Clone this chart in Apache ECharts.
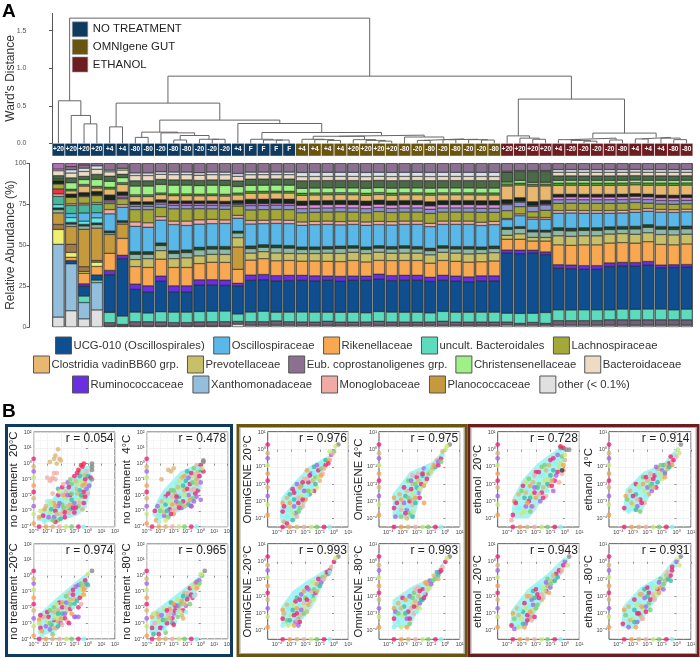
<!DOCTYPE html>
<html><head><meta charset="utf-8"><style>html,body{margin:0;padding:0;background:#fff}#c{width:700px;height:658px}</style>
<script src="https://cdn.jsdelivr.net/npm/echarts@6/dist/echarts.min.js"></script></head><body><div id="c"></div><script>
const leafLabels=['+20','+20','+20','+20','+4','+4','-80','-80','-20','-80','-80','-20','-20','-20','+4','F','F','F','F','+4','+4','+4','+4','+20','+20','+20','+20','-80','-20','-80','-20','-80','-20','-20','-80','+20','+20','+20','+20','+4','-20','-20','-20','-20','-80','+4','+4','+4','-80','-80'];
const groupSizes=[19,16,15];
const groupNames=['NO TREATMENT','OMNIgene GUT','ETHANOL'];
// dendrogram: [height,left,right], leaves are column numbers
const treeFor=[.567,0,[.372,1,[.26,2,3]]];
const treeNT=[.536,[.22,4,5],[.31,[.15,[.08,6,7],[.14,8,[.105,[.045,9,10],[.055,11,[.055,12,13]]]]],[.265,14,[.145,[.055,15,[.045,16,[.045,17,18]]],[.11,[.095,[.055,19,[.05,20,[.04,21,22]]],[.05,23,[.04,24,[.03,25,26]]]],[.085,27,[.06,[.04,28,29],[.055,[.05,30,31],[.05,32,[.045,33,34]]]]]]]]]];
const treeEth=[.59,[.1,35,[.07,36,[.055,37,38]]],[.137,[.07,[.05,39,[.04,40,[.03,41,42]]],[.045,43,44]],[.08,[.06,45,46],[.07,47,[.05,48,49]]]]];
const treeRoot=[1.667,treeFor,[.895,treeNT,treeEth]];
// stacked taxa, bottom to top
const other=[6,10,5,10,.5,.5,.5,.5,.5,.5,.5,.5,.5,.5,1.5,1,1,1,1,1,1,1,1,1,1,1,1,1,1,1,1,1,1,1,1,1,1,1,1,1,1,1,1,1,1,1,1,1,1,1];
const base=[0,0,0,0,2,1,2.5,2.5,2.5,2,2,2.5,2.5,2.5,1.5,2,2,2.5,2,2,2,2.5,2,2,2,2.5,2,2,2,2,2.5,2,2,2,2,1.5,1,1.5,1,2.5,2.5,2.5,2.5,3,3,3,3,3,3,3];
const xan=[44,29,10,16,0,0,0,0,0,0,0,0,0,0,0,0,0,0,0,0,0,0,0,0,0,0,0,0,0,0,0,0,0,0,0,0,0,0,0,0,0,0,0,0,0,0,0,0,0,0];
const teal=[0,0,4,1.5,6,5,5.5,5,6,6,6,6,6,6,4,5.5,6,5,5.5,6,6,5.5,6,6,5.5,6,6,6,6,5.5,6,6,6,6,6,4.5,5.5,5,6,6,6,6,6,5.5,6,6,6,6,5.5,6];
const ucg=[0,2,6,3,22,34,13,12,18,11.5,11.5,15.5,15,14.5,15,18,18,18,18,19,19,19.5,19,19.5,19.5,20,19,19.5,19.5,19,19,19,18.5,19,19,30.5,33,33,32,23,23,22.5,22.5,24,24,24.5,24.5,23,23.5,23.5];
const rum=[0,0,1.5,0,2.5,2,3,3.5,3,3.5,3.5,3,3,3,1.5,3,3,3,3,3,3,2.5,3,2.5,2.5,3,3,3,3,2.5,3,3,3,3,3,1.5,2,1.5,1.5,2,2,2,2,2,2,2,2,1.5,1.5,1.5];
const rik=[0,2,6.5,5,10,10,10,10.5,10,10.5,10.5,9.5,10,10,7.5,8.5,9,8.5,8.5,8.5,9,9,9,9.5,8.5,8.5,9,9,9,8.5,9,9,9,8.5,9,5.5,6,5,6,11,11,11.5,11.5,11,11,11,11,11.5,11,11.5];
const yel=[9,3,1,2.5,0,0,0,0,0,0,0,0,0,0,0,0,0,0,0,0,0,0,0,0,0,0,0,0,0,0,0,0,0,0,0,0,0,0,0,0,0,0,0,0,0,0,0,0,0,0];
const brn=[3,5,3,1,0,0,0,0,0,0,0,0,0,0,0,0,0,0,0,0,0,0,0,0,0,0,0,0,0,0,0,0,0,0,0,0,0,0,0,0,0,0,0,0,0,0,0,0,0,0];
const pla=[7,11,23,19,11,8.5,0,0,0,0,0,0,0,0,12,0,0,0,0,0,0,0,0,0,0,0,0,0,0,0,0,0,0,0,0,0,0,0,0,0,0,0,0,0,0,0,0,0,0,0];
const prev=[0,0,0,0,0,0,4,5,5,5,5.5,4.5,4.5,4.5,5,4,4,4.5,4,4.5,4.5,5,5,5,5,5,4.5,4.5,4.5,5,5,5,5,5,5,2,3,2,2,5,5,5,5,5,5,5,5,5.5,5.5,5.5];
const pale=[2,1.5,2,2,1,1,3,2.5,3,3,3,3.5,3,3,2.5,2.5,2.5,3,3,2.5,2.5,2.5,3,2.5,2.5,2.5,2.5,3,2.5,2.5,2.5,2.5,3,2.5,2.5,3,3,3,3,3,3,3,3,2.5,2.5,3,3,3,3,3];
const dkg=[1,1,1,1,1,1,1.5,1.5,1.5,1.5,1.5,1.5,1.5,1.5,1,1.5,1.5,1.5,1.5,1.5,1.5,1.5,1.5,1.5,1.5,1.5,1.5,1.5,1.5,1.5,1.5,1.5,1.5,1.5,1.5,1,1,1,1,1.5,1.5,1.5,1.5,1.5,1.5,1.5,1.5,1.5,1.5,1.5];
const cyan=[2,3,2,3,0,0,0,0,0,0,0,0,0,0,0,0,0,0,0,0,0,0,0,0,0,0,0,0,0,0,0,0,0,0,0,0,0,0,0,0,0,0,0,0,0,0,0,0,0,0];
const osc=[0,2.5,5,3,10,8,14.5,14,13.5,15,14,13.5,13,13,7,12.5,12,12.5,12.5,13,13.5,13.5,13,13,13,13,13,13,13.5,13,13,13.5,13.5,13,13,4,6,6,6,8,8.5,8,8,7.5,7.5,8,7.5,8,8,8];
const teal2=[5,5,5,5,0,0,0,0,0,0,0,0,0,0,0,0,0,0,0,0,0,0,0,0,0,0,0,0,0,0,0,0,0,0,0,0,0,0,0,0,0,0,0,0,0,0,0,0,0,0];
const mono=[1.5,1,1,1,2.5,1.5,2.5,2.5,2,2,2.5,2.5,2.5,2,1.5,2,2,2,2,2,2,2,2,2,2,2,2,2,2,2,2,2,2,2,2,.5,1,1,1,1.5,1.5,1.5,1.5,1.5,1.5,1.5,1.5,1.5,1.5,1.5];
const red=[3,0,0,0,0,0,0,0,0,0,0,0,0,0,0,0,0,0,0,0,0,0,0,0,0,0,0,0,0,0,0,0,0,0,0,0,0,0,0,0,0,0,0,0,0,0,0,0,0,0];
const lach=[3,4,4,4,3.5,3.5,7,7.5,5.5,7,7,6.5,6,6,5,6,6,6,6,5.5,5.5,5.5,6,5.5,5.5,6,5.5,5.5,5.5,6,5.5,5.5,5.5,6,5.5,4,4,3,4,4,4,4,4,4,4,4,3,3,3,3];
const peri=[0,0,0,.5,1,1,2,2,2,2,2,2,2,2,1,2.5,2.5,2.5,2.5,2.5,2.5,2.5,2.5,2.5,2.5,2.5,2.5,2.5,2.5,2.5,2.5,2.5,2.5,2.5,2.5,3,2.5,3,3,2,2,2,2,2,2,2,2,2,2,2];
const pink=[0,0,.5,0,1,1,1,1,1,1,1,1,1,1,.5,1,1,1,1,2,2,2,2,2,2,2,2,2,2,2,2,2,2,2,2,.5,.5,.5,.5,1.5,1.5,1.5,1.5,1.5,1.5,1.5,1.5,1.5,1.5,1.5];
const dark=[2,2,2,2,3,2,1.5,1.5,1.5,1.5,1.5,1.5,1.5,1.5,1.5,2.5,2.5,2.5,2.5,2.5,2.5,2.5,2.5,2.5,2.5,2.5,2.5,2.5,2.5,2.5,2.5,2.5,2.5,2.5,2.5,2,2,2,2,1.5,1.5,1.5,1.5,1.5,1.5,1.5,1.5,1.5,1.5,1.5];
const vad=[0,2,4,2,3.5,4.5,3,3,3,3,3,3,3,3,3,3.5,3.5,3.5,3.5,3.5,3.5,3.5,3.5,3.5,3.5,3.5,3.5,3.5,3.5,4,3.5,3.5,3.5,3.5,3.5,7,7,8.5,8,5,5,5,5,5,5,5,5,5.5,5.5,5.5];
const grn=[1,1,1,1,1,1,1,1,1,1,1,1,1,1,1,1,1,1,1,1.2,1.2,1.2,1.2,1.2,1.2,1.2,1.2,1.2,1.2,1.2,1.2,1.2,1.2,1.2,1.2,1,1,1,1,1.2,1.2,1.2,1.2,1.2,1.2,1.2,1.2,1.2,1.2,1.2];
const chr=[0,4,3,4,3.5,3,5,5,5,5,5,5,5,5,3.5,3.5,3.5,3.5,3.5,3,3,3,3,3,3,3,3,3,3,3,3,3,3,3,3,1,1.5,1,1,1.5,1.5,1.5,1.5,1.5,1.5,1.5,1.5,1.5,1.5,1.5];
const dkg2=[2,3,2,3,3,2,3,3,3,3,3,3,3,3,3,3.5,3.5,3.5,3.5,4.5,4.5,4.5,4.5,4.5,4.5,4.5,4.5,4.5,4.5,4.5,4.5,4.5,4.5,4.5,4.5,5,5,6,6,2.5,2.5,2.5,2.5,2.5,2.5,2.5,2.5,2.5,2.5,2.5];
const bei=[3,3,3,3,2.5,2.5,3,3,3,3,3,3,3,3,2.5,2.5,2.5,2.5,2.5,2.5,2.5,2.5,2.5,2.5,2.5,2.5,2.5,2.5,2.5,2.5,2.5,2.5,2.5,2.5,2.5,0,0,0,0,2,2,2,2,2,2,2,2,2,2,2];
const wht=[1,2,2,2,1,1,1.5,1.5,1.5,1.5,1.5,1.5,1.5,1.5,1.5,1.5,1.5,1.5,1.5,2.5,2.5,2.5,2.5,2.5,2.5,2.5,2.5,2.5,2.5,2.5,2.5,2.5,2.5,2.5,2.5,.5,.5,.5,.5,1.5,1.5,1.5,1.5,1.5,1.5,1.5,1.5,1.5,1.5,1.5];
const eub=[0,2,2,1.5,4,3,5.5,5.5,5,5,5,5.5,5,5,5.5,5,5,5,5,5.5,5.5,5.5,5.5,5.5,5.5,5.5,5.5,5.5,5.5,5.5,5.5,5.5,5.5,5.5,5.5,4,4,4,4,3.5,3.5,3.5,3.5,3.5,3.5,3.5,3.5,3.5,3.5,3.5];
const orch=[3.5,2,1,0,0,0,0,0,0,0,0,0,0,0,0,0,0,0,0,0,0,0,0,0,0,0,0,0,0,0,0,0,0,0,0,0,0,0,0,0,0,0,0,0,0,0,0,0,0,0];
// scatter panels: log10 values x10, flat x,y pairs
const titles=['no treatment  20°C','no treatment  4°C','no treatment -20°C','no treatment -80°C','OmniGENE 20°C','OmniGENE 4°C','OmniGENE -20°C','OmniGENE -80°C','ethanol  20°C','ethanol  4°C','ethanol  -20°C','ethanol  -80°C'];
const rValues=['0.054','0.478','0.974','0.965','0.976','0.975','0.993','0.993','0.728','0.914','0.943','0.931'];
const clouds=[
[-38,-36,-30,-25,-20,-18,-10,-8,-2,-2,2,-1,3,-12,-1,-28,-8,-33,-20,-36,-30,-37],
[-36,-32,-32,-23,-28,-17,-15,-5,-5,-1,1,1,2,-3,-3,-23,-10,-28,-25,-34,-32,-36],
[-37,-37,-37,-25,-23,-14,-8,-3,1,3,0,-1,-3,-11,-12,-20,-23,-35,-30,-37],
[-38,-36,-37,-24,-23,-15,-5,-3,3,3,-2,-4,-9,-15,-23,-31,-32,-37],
[-38,-39,-37,-28,-27,-18,-18,-10,-3,-3,2,2,-3,-5,-12,-18,-22,-35,-27,-41,-37,-43],
[-37,-37,-37,-26,-25,-13,-9,-7,1,2,-4,-8,-16,-23,-22,-40,-37,-40],
[-37,-36,-37,-26,-29,-17,-19,-11,-3,-3,2,3,-3,-5,-15,-26,-25,-37],
[-37,-36,-37,-22,-23,-14,-9,-9,1,3,-6,-9,-16,-24,-25,-38,-37,-38],
[-37,-40,-36,-28,-29,-17,-19,-8,-6,0,0,2,-1,-8,-9,-19,-20,-35,-25,-40],
[-37,-36,-35,-23,-23,-13,-9,-8,1,2,-3,-10,-16,-23,-24,-36],
[-38,-38,-37,-28,-26,-16,-12,-7,0,3,-2,-7,-12,-18,-22,-32,-30,-39],
[-38,-38,-37,-26,-25,-15,-11,-8,0,3,-3,-8,-13,-21,-24,-34,-30,-39]];
const nt20=[-33,-33,-30,-35,-28,-31,-36,-34,-25,-34,-22,-36,-31,-27,-27,-29,-24,-30,-20,-32,-17,-34,-14,-33,-28,-24,-25,-25,-22,-27,-19,-26,-16,-30,-13,-29,-10,-31,-26,-19,-22,-20,-19,-23,-16,-22,-13,-26,-10,-25,-7,-27,-4,-29,-22,-16,-19,-15,-16,-18,-13,-20,-10,-21,-7,-23,-4,-21,-15,-12,-12,-13,-9,-16,-6,-17,-3,-18,0,-19,-10,-8,-7,-10,-5,-11,-2,-13,1,-14,-6,-5,-3,-7,0,-8,2,-9,-18,-30,-24,-37,-32,-37,-35,-30,-32,-29,-29,-34,-26,-36,-23,-32,-20,-35,-17,-31,-14,-31,-11,-28,-30,-24,-27,-26,-24,-27,-21,-25,-18,-28,-15,-27,-12,-23,-9,-28,-6,-25,-3,-25,-24,-22,-21,-18,-18,-20,-15,-20,-12,-19,-8,-19,-5,-20,-2,-21,-18,-13,-14,-15,-11,-16,-8,-13,-4,-14,-1,-16,-13,-10,-9,-11,-6,-8,-2,-10,-1,-5,-8,-6,-4,-5];
const nt4=[-34,-30,-31,-33,-29,-28,-33,-36,-27,-33,-24,-34,-29,-24,-26,-26,-23,-29,-21,-30,-26,-21,-23,-22,-20,-24,-17,-26,-14,-28,-22,-17,-19,-19,-16,-21,-13,-24,-10,-25,-7,-27,-18,-13,-15,-15,-12,-17,-9,-20,-6,-22,-14,-9,-11,-11,-8,-13,-5,-16,-2,-17,-9,-6,-6,-8,-3,-10,0,-12,-5,-3,-2,-5,0,-4,2,-5,-3,-1,0,-1,-31,-37,-26,-36,-20,-32,-32,-27,-30,-30,-27,-31,-25,-30,-22,-32,-19,-29,-16,-28,-27,-22,-24,-24,-21,-26,-18,-24,-15,-25,-12,-27,-9,-26,-24,-19,-21,-21,-18,-21,-15,-19,-12,-20,-8,-23,-5,-24,-20,-17,-17,-15,-13,-14,-10,-16,-7,-17,-4,-19,-1,-15,-16,-11,-12,-8,-9,-9,-6,-12,-3,-13,-10,-5,-7,-6,-4,-7,-1,-8,-2,-3,1,-3];
const nt_20=[-35,-33,-32,-36,-30,-29,-36,-28,-28,-34,-26,-37,-33,-26,-27,-31,-25,-28,-23,-33,-30,-23,-27,-24,-24,-25,-22,-29,-20,-30,-25,-20,-22,-22,-19,-24,-17,-27,-15,-29,-21,-17,-18,-18,-15,-22,-12,-24,-10,-26,-16,-13,-13,-15,-10,-18,-7,-20,-5,-18,-11,-9,-8,-11,-5,-13,-3,-12,-7,-6,-4,-7,-2,-8,0,-6,-2,-3,-19,-31,-14,-30,-34,-38,-36,-30,-34,-35,-31,-32,-28,-30,-25,-33,-22,-32,-35,-25,-32,-26,-29,-26,-26,-27,-23,-27,-20,-27,-17,-24,-28,-22,-25,-23,-22,-24,-19,-20,-16,-20,-13,-21,-11,-20,-23,-18,-19,-17,-16,-17,-13,-18,-10,-15,-8,-16,-6,-14,-14,-11,-11,-12,-7,-9,-5,-9,-3,-9,-9,-7,-5,-5,-3,-6,-1,-5];
const nt_80=[-36,-33,-33,-36,-31,-29,-36,-26,-29,-33,-26,-36,-32,-24,-28,-28,-25,-30,-24,-25,-21,-27,-19,-29,-27,-21,-23,-21,-20,-24,-17,-26,-14,-25,-22,-17,-19,-19,-16,-21,-13,-22,-11,-23,-17,-15,-14,-16,-11,-19,-8,-18,-12,-11,-9,-13,-6,-14,-4,-12,-8,-8,-5,-10,-2,-7,-4,-5,-1,-3,1,0,-13,-27,-35,-37,-31,-37,-34,-30,-30,-33,-27,-34,-35,-24,-31,-26,-29,-25,-26,-28,-23,-27,-21,-30,-25,-22,-22,-23,-19,-22,-17,-23,-15,-23,-20,-18,-17,-19,-15,-18,-12,-18,-13,-13,-10,-15,-10,-11,-7,-12,-5,-13,-6,-7,-3,-8,-3,-4,-1,-5];
const om20=[-36,-36,-33,-39,-30,-34,-36,-31,-27,-37,-24,-34,-33,-28,-28,-29,-25,-31,-22,-33,-29,-23,-26,-25,-23,-27,-20,-29,-26,-20,-23,-21,-20,-24,-17,-26,-14,-24,-21,-17,-18,-19,-15,-21,-12,-22,-19,-12,-16,-14,-13,-16,-10,-18,-14,-10,-11,-12,-8,-14,-6,-9,-9,-8,-5,-7,-3,-6,-2,-3,0,-1,-35,-42,-29,-41,-33,-43,-26,-39,-35,-33,-32,-35,-29,-37,-31,-31,-28,-33,-25,-36,-22,-30,-31,-26,-28,-25,-25,-28,-22,-29,-19,-26,-16,-24,-24,-22,-21,-24,-18,-24,-15,-18,-13,-20,-22,-19,-19,-17,-17,-15,-14,-14,-11,-16,-9,-15,-12,-9,-9,-11,-7,-11,-6,-6,-4,-8,-1,-2];
const om4=[-36,-34,-33,-37,-30,-32,-36,-28,-27,-35,-25,-37,-32,-26,-28,-27,-25,-30,-23,-32,-29,-22,-26,-24,-23,-26,-21,-28,-19,-25,-26,-18,-23,-20,-20,-22,-17,-20,-23,-15,-20,-16,-17,-17,-14,-19,-12,-14,-15,-11,-11,-13,-9,-11,-7,-10,-5,-9,-6,-6,-3,-5,-2,-3,0,0,-15,-31,-35,-39,-31,-39,-27,-40,-23,-39,-34,-31,-31,-35,-28,-37,-26,-33,-23,-36,-31,-29,-29,-31,-26,-28,-23,-29,-21,-31,-18,-28,-27,-24,-24,-23,-21,-25,-18,-23,-15,-21,-24,-18,-21,-20,-19,-18,-16,-15,-13,-17,-19,-14,-16,-14,-13,-12,-10,-13,-8,-9,-5,-7,-3,-7,-2,-1];
const om_20=[-36,-33,-33,-36,-30,-31,-36,-28,-27,-35,-25,-33,-33,-25,-29,-28,-26,-30,-23,-31,-27,-23,-24,-25,-21,-27,-18,-25,-23,-19,-20,-21,-17,-23,-15,-20,-19,-15,-16,-17,-13,-18,-11,-15,-15,-12,-12,-13,-9,-12,-8,-9,-6,-8,-4,-7,-3,-5,-2,-3,0,0,-36,-37,-32,-37,-28,-37,-25,-37,-33,-34,-35,-30,-31,-34,-28,-31,-26,-34,-24,-35,-32,-27,-29,-25,-26,-27,-23,-28,-21,-30,-19,-29,-26,-21,-24,-22,-21,-24,-19,-22,-17,-20,-14,-22,-21,-17,-18,-16,-14,-16,-12,-17,-10,-14,-11,-10,-7,-10,-5,-6,-3,-6];
const om_80=[-36,-33,-33,-35,-30,-31,-36,-27,-27,-33,-25,-36,-33,-24,-29,-26,-26,-29,-22,-30,-30,-21,-26,-22,-23,-24,-20,-26,-18,-24,-22,-18,-19,-20,-16,-22,-14,-19,-19,-15,-16,-16,-13,-16,-11,-15,-14,-12,-11,-11,-9,-11,-8,-8,-5,-8,-4,-6,-2,-3,0,0,-36,-38,-31,-38,-27,-38,-35,-29,-33,-30,-31,-27,-28,-30,-25,-33,-24,-27,-22,-26,-20,-29,-18,-27,-28,-22,-25,-20,-23,-21,-21,-23,-17,-22,-15,-21,-21,-16,-18,-17,-15,-18,-12,-16,-13,-13,-10,-13,-7,-10,-5,-10,-6,-6,-3,-5];
const et20=[-36,-38,-33,-34,-30,-37,-35,-30,-27,-33,-24,-36,-32,-26,-28,-28,-25,-30,-22,-33,-29,-21,-26,-23,-23,-26,-20,-28,-17,-30,-25,-17,-22,-19,-19,-22,-16,-25,-13,-27,-20,-13,-17,-15,-14,-18,-11,-21,-8,-24,-16,-10,-13,-12,-10,-15,-7,-18,-4,-19,-10,-6,-7,-8,-4,-10,-1,-12,-5,-3,-2,-4,0,-6,-3,1,-1,1,-37,-41,-34,-31,-31,-34,-28,-36,-26,-31,-23,-33,-30,-24,-27,-25,-24,-28,-21,-25,-18,-26,-15,-28,-12,-24,-27,-19,-24,-21,-21,-22,-18,-20,-15,-22,-12,-20,-9,-21,-21,-15,-18,-13,-15,-15,-12,-17,-9,-18,-6,-15,-14,-9,-11,-9,-8,-12,-5,-13,-2,-14,-8,-5,-5,-7,-3,-8,-1,-9];
const et4=[-36,-34,-33,-36,-30,-32,-35,-27,-27,-33,-25,-36,-32,-24,-28,-26,-25,-29,-22,-31,-28,-20,-25,-22,-22,-24,-19,-26,-17,-24,-23,-16,-20,-18,-17,-20,-14,-22,-18,-14,-15,-15,-12,-16,-10,-17,-13,-11,-10,-12,-8,-13,-6,-11,-9,-9,-5,-8,-3,-7,-4,-4,-1,-3,1,0,-3,-9,-8,-14,-34,-29,-31,-31,-28,-35,-30,-27,-27,-29,-24,-31,-21,-27,-26,-21,-23,-20,-20,-22,-18,-21,-16,-22,-13,-19,-21,-16,-18,-17,-16,-17,-13,-14,-11,-14,-8,-16,-14,-10,-11,-9,-7,-9,-5,-10,-2,-6,0,-4];
const et_20=[-37,-37,-33,-38,-30,-33,-36,-30,-27,-36,-24,-32,-33,-27,-29,-29,-26,-31,-23,-34,-28,-24,-25,-26,-22,-28,-26,-20,-23,-22,-19,-25,-16,-22,-22,-17,-19,-19,-16,-19,-13,-17,-18,-14,-15,-15,-12,-14,-10,-15,-12,-10,-9,-11,-7,-11,-6,-7,-3,-6,-1,-2,1,1,-32,-38,-28,-38,-35,-39,-35,-33,-32,-31,-29,-36,-26,-34,-23,-30,-21,-32,-31,-28,-27,-27,-24,-29,-22,-25,-20,-27,-24,-20,-21,-21,-18,-21,-15,-21,-20,-16,-17,-16,-14,-17,-11,-18,-13,-12,-10,-13,-8,-8,-5,-9,-4,-5,-2,-5];
const et_80=[-37,-36,-33,-37,-30,-33,-36,-28,-27,-35,-25,-31,-33,-26,-29,-28,-26,-30,-23,-33,-29,-22,-26,-24,-23,-27,-25,-19,-22,-21,-19,-24,-16,-21,-22,-16,-19,-18,-16,-19,-13,-16,-17,-13,-14,-15,-11,-15,-9,-16,-11,-10,-8,-11,-6,-10,-4,-8,-6,-6,-3,-5,-1,-2,1,1,-28,-38,-33,-38,-35,-31,-32,-34,-29,-35,-27,-30,-24,-33,-21,-29,-31,-24,-27,-25,-24,-26,-21,-26,-18,-28,-24,-19,-20,-20,-18,-22,-15,-22,-20,-15,-17,-15,-14,-18,-12,-18,-12,-12,-9,-13,-7,-8,-4,-11,-3,-3];
const bodies=[nt20,nt4,nt_20,nt_80,om20,om4,om_20,om_80,et20,et4,et_20,et_80];
// tagged outliers: x,y,colour
const outs=[
[-22,9,6,-24,5,6,-20,2,6,-25,3,6,-28,1,6,-23,0,6,-21,3,6,-25,-6,9,-23,-6,9,-30,-9,9,-27,-10,9,-26,-9,9,-24,-10,9,-28,-11,9,-3,0,10,-5,-1,10,-7,-4,10,-4,-2,10,3,0,11,3,-2,11,3,-4,11,3,-10,11],
[-20,-3,6,-24,-4,6,-22,-5,6,-29,-10,6,-3,-21,4,0,-23,4,-7,-27,4,2,2,11,2,1,11],
[-9,-26,4,-7,-26,4,3,3,11,0,1,2],
[3,3,11,0,1,2,-20,-31,0],
[3,3,11,1,2,2,-3,-1,2],[3,3,11,1,2,2],[3,3,11,1,2,2],[3,3,11,1,2,2],
[1,0,11,3,0,11,-3,2,10,0,-3,2,-2,-12,12],[3,3,11,2,-2,2],[3,3,11,2,-2,2,0,0,4],[3,3,11,2,-2,2,0,0,4]];
const palette=['#f0247a','#8ef3f0','#c8e87a','#f8a050','#a868e8','#7cd070','#d9b878','#40b8a8','#f0247a','#f0b0a8','#f02850','#8a8a8a','#2a3a70'];
const edgeLeft=[-38,-32,-27,-22,-18,-14,-9,-5,-2,3];
const edgeBottom=[-36,-31,-26,-21,-16,-12,-7,-3];

const P=[[33.7,115,432,526.7],[146.7,227.7,432,526.7],[33.7,115,544,639],[146.7,227.7,544,639],
[267.7,348.3,431.7,527],[379,459.7,431.7,527],[267.7,348.3,543.7,639.3],[379,459.7,543.7,639.3],
[497.7,579.3,431.7,527],[609,691,431.7,527],[497.7,579.3,543.7,639.3],[609,691,543.7,639.3]];
const sup={'-':'⁻','0':'⁰','1':'¹','2':'²','3':'³','4':'⁴'};
const tick=v=>'10'+String(v).split('').map(c=>sup[c]).join('');
const FONT='"Liberation Sans",Arial,sans-serif';
const L=52,W=641,N=50;
const free={outerBoundsMode:'none',containLabel:false};
const grid=[{...free,left:L,width:W,top:13.4,height:130},{...free,left:L,width:W,top:143.6,height:12.2},{...free,left:L,width:W,top:163.3,height:163.7}];
const xAxis=[{type:'value',min:0,max:N,show:false,gridIndex:0},
{type:'category',data:leafLabels,show:false,gridIndex:1},
{type:'category',data:leafLabels,show:false,gridIndex:2},
{type:'category',data:leafLabels,show:false,gridIndex:2}];
const axisGrey={lineStyle:{color:'#555',width:1}};
const yAxis=[{type:'value',min:0,max:1.73,interval:.5,gridIndex:0,offset:22.5,name:"Ward's Distance",nameLocation:'middle',nameGap:13,nameMoveOverlap:false,nameTextStyle:{fontSize:12,color:'#333',fontFamily:FONT},
 axisLine:{show:true,...axisGrey},axisTick:{show:true,length:3,...axisGrey},splitLine:{show:false},axisLabel:{fontSize:7,color:'#555',margin:3,fontFamily:FONT,showMaxLabel:false,formatter:v=>v.toFixed(1)}},
{type:'value',min:0,max:1,show:false,gridIndex:1},
{type:'value',min:0,max:100,interval:25,gridIndex:2,offset:22.5,name:'Relative Abundance (%)',nameLocation:'middle',nameGap:13,nameMoveOverlap:false,nameTextStyle:{fontSize:12,color:'#333',fontFamily:FONT},
 axisLine:{show:true,...axisGrey},axisTick:{show:true,length:3,...axisGrey},splitLine:{show:false},axisLabel:{fontSize:7,color:'#555',margin:3,fontFamily:FONT}},
{type:'value',min:0,max:100,show:false,gridIndex:2}];
const series=[];
// dendrogram
const segs=[];
function walk(n){ if(typeof n==='number') return [n+.5,0];
 const a=walk(n[1]),b=walk(n[2]);
 segs.push([a[0],a[1]],[a[0],n[0]],[b[0],n[0]],[b[0],b[1]],[NaN,NaN]);
 return [(a[0]+b[0])/2,n[0]]; }
walk(treeRoot);
series.push({type:'line',data:segs,xAxisIndex:0,yAxisIndex:0,showSymbol:false,silent:true,lineStyle:{color:'#666',width:1},clip:false,animation:false,connectNulls:false});
// leaf tags
const treatColors=['#0f3a5f','#6a5510','#6d1c20'];
let start=0;
groupSizes.forEach((g,k)=>{
 const d=leafLabels.map((l,i)=>(i>=start&&i<start+g)?1:null);
 series.push({type:'bar',name:groupNames[k],data:d,xAxisIndex:1,yAxisIndex:1,barWidth:12,barGap:'-100%',itemStyle:{color:treatColors[k]},animation:false,silent:true,
  label:{show:true,position:'inside',color:'#fff',fontSize:6.5,fontWeight:'bold',fontFamily:FONT,formatter:p=>leafLabels[p.dataIndex]}});
 start+=g;});
// frames
series.push({type:'bar',data:leafLabels.map(()=>100),xAxisIndex:3,yAxisIndex:3,barWidth:12.82,itemStyle:{color:'#6e6e6e'},z:1,animation:false,silent:true});
const taxa=[['other (< 0.1%)',other,'#e0e0e0'],['m1',base,'#6f6078'],['Xanthomonadaceae',xan,'#94bfdc'],['uncult. Bacteroidales',teal,'#5cdcbc'],['UCG-010 (Oscillospirales)',ucg,'#0f4f8f'],['Ruminococcaceae',rum,'#6b2ee0'],['Rikenellaceae',rik,'#f8a850'],['m2',yel,'#eef06e'],['m3',brn,'#a07a4a'],['Planococcaceae',pla,'#c49a3c'],['Prevotellaceae',prev,'#c8c068'],['m4',pale,'#90b8a8'],['m5',dkg,'#1c4a24'],['m6',cyan,'#60e8e8'],['Oscillospiraceae',osc,'#5ab8e8'],['m7',teal2,'#45b89c'],['Monoglobaceae',mono,'#f0aca4'],['m8',red,'#ee3344'],['Lachnospiraceae',lach,'#a3a838'],['m9',peri,'#8c94d0'],['m10',pink,'#e58fe0'],['m11',dark,'#17261c'],['Clostridia vadinBB60 grp.',vad,'#e8b870'],['m12',grn,'#50b030'],['Christensenellaceae',chr,'#a0f088'],['m13',dkg2,'#4a6a48'],['Bacteroidaceae',bei,'#ecdcc4'],['m14',wht,'#d8e4ec'],['Eub. coprostanoligenes grp.',eub,'#8b7090'],['m15',orch,'#b070b0']];
const totals=leafLabels.map((_,i)=>taxa.reduce((s,t)=>s+t[1][i],0));
taxa.forEach(t=>series.push({type:'bar',name:t[0],stack:'a',data:t[1].map((v,i)=>v?v*100/totals[i]:null),xAxisIndex:2,yAxisIndex:2,barWidth:11.4,z:2,animation:false,silent:true,
 itemStyle:{color:t[2],borderColor:'#141414',borderWidth:.4}}));
// scatter panels
const graphic=[];
const rect=(x,y,w,h,c,lw)=>graphic.push({type:'rect',silent:true,z:-1,shape:{x,y,width:w,height:h},style:{fill:'none',stroke:c,lineWidth:lw}});
rect(6.5,425.5,225,230,'#0f3a5f',3);rect(238,425.5,228,230,'#6a5510',3);rect(469,425.5,229,230,'#6d1c20',3);
rect(240,427.5,224,226,'#aaa',1);rect(471,427.5,225,226,'#aaa',1);
graphic.push({type:'text',x:2,y:2,silent:true,style:{text:'A',font:'bold 19px '+FONT,fill:'#000'}});
graphic.push({type:'text',x:2,y:402,silent:true,style:{text:'B',font:'bold 19px '+FONT,fill:'#000'}});
P.forEach((p,i)=>{
 const gi=grid.length, nt=i<4;
 const xmin=nt?-4:-4.65,xmax=nt?2:1,ymin=nt?-4:-4.5,ymax=nt?2:1.05;
 const majX=nt?[-4,-3,-2,-1,0,1,2]:[-4,-3,-2,-1,0,1], majY=majX;
 grid.push({...free,left:p[0],width:p[1]-p[0],top:p[2],height:p[3]-p[2],show:true,borderColor:'#555',borderWidth:1,backgroundColor:'#fff'});
 const ax=(min,max,maj)=>({type:'value',min,max,gridIndex:gi,axisLine:{show:false},
  axisTick:{show:true,length:2,customValues:maj,lineStyle:{color:'#666',width:.7}},
  splitLine:{show:true,lineStyle:{color:'#ececec',width:.7}},
  axisLabel:{fontSize:5.5,color:'#444',margin:2,fontFamily:FONT,customValues:maj,formatter:tick}});
 xAxis.push(ax(xmin,xmax,majX));
 yAxis.push({...ax(ymin,ymax,majY),name:titles[i],nameLocation:'middle',nameGap:14.5,nameMoveOverlap:false,nameTextStyle:{fontSize:11.4,color:'#222',fontFamily:FONT}});
 const ai=xAxis.length-1;
 const poly=[];for(let k=0;k<clouds[i].length;k+=2)poly.push([clouds[i][k]/10,clouds[i][k+1]/10]);
 const minors=[];for(let v=-3.5;v<xmax;v+=1)minors.push({xAxis:v});for(let v=-3.5;v<ymax;v+=1)minors.push({yAxis:v});
 series.push({type:'custom',coordinateSystem:'cartesian2d',xAxisIndex:ai,yAxisIndex:ai,data:poly,silent:true,animation:false,z:3,clip:true,encode:{x:0,y:1},
  renderItem:(prm,api)=>prm.dataIndex===0?{type:'polygon',shape:{points:poly.map(c=>api.coord(c))},style:{fill:'#a6f3f0'}}:null,
  markLine:{silent:true,symbol:'none',z:2,animation:false,label:{show:false},lineStyle:{color:'#f4f4f4',width:.6,type:'solid'},data:minors}});
 const pts=[];for(let k=0;k<bodies[i].length;k+=2)pts.push({value:[bodies[i][k]/10,bodies[i][k+1]/10],itemStyle:{color:palette[(k/2)%10]}});
 for(let k=0;k<outs[i].length;k+=3)pts.push({value:[outs[i][k]/10,outs[i][k+1]/10],itemStyle:{color:palette[outs[i][k+2]]}});
 edgeLeft.forEach((y,k)=>pts.push({value:[xmin,y/10],itemStyle:{color:palette[k%5===0?3:(k%5)*2%10]}}));
 edgeBottom.forEach((x,k)=>pts.push({value:[x/10,ymin],itemStyle:{color:palette[(k*3)%10]}}));
 series.push({type:'scatter',xAxisIndex:ai,yAxisIndex:ai,data:pts,symbolSize:4.8,silent:true,animation:false,z:4,clip:true});
 graphic.push({type:'text',z:20,silent:true,x:p[1]-1.5,y:p[2]+.5,style:{text:'r = '+rValues[i],align:'right',font:'12px '+FONT,fill:'#222'}});
});
const lg=(top,left,data,gap)=>({top,left,data,padding:0,itemWidth:16,itemHeight:17,itemGap:gap,icon:'rect',selectedMode:false,itemStyle:{borderColor:'#555',borderWidth:1},textStyle:{fontSize:11.3,color:'#333',fontFamily:FONT,padding:[0,0,0,-3]}});
const legend=[lg(336.5,55,['UCG-010 (Oscillospirales)','Oscillospiraceae','Rikenellaceae','uncult. Bacteroidales','Lachnospiraceae'],8.5),
lg(355.5,33,['Clostridia vadinBB60 grp.','Prevotellaceae','Eub. coprostanoligenes grp.','Christensenellaceae','Bacteroidaceae'],8),
lg(375.5,72,['Ruminococcaceae','Xanthomonadaceae','Monoglobaceae','Planococcaceae','other (< 0.1%)'],9),
{top:21.5,left:72,padding:0,orient:'vertical',data:groupNames,itemWidth:15.5,itemHeight:15,itemGap:2,icon:'rect',selectedMode:false,itemStyle:{borderColor:'#999',borderWidth:.6},textStyle:{fontSize:11.4,color:'#222',fontFamily:FONT}}];
const chart=echarts.init(document.getElementById('c'),null,{renderer:'canvas'});
chart.setOption({animation:false,backgroundColor:'#fff',grid,xAxis,yAxis,series,legend,graphic});
</script></body></html>
